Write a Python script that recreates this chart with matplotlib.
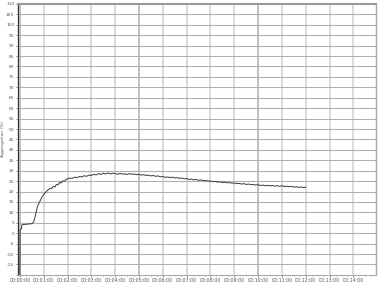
import numpy as np
import matplotlib
matplotlib.use("Agg")
import matplotlib.pyplot as plt
from matplotlib.ticker import MultipleLocator, FuncFormatter


# aggregation trace, time in minutes

time_start = [0.00, 0.01, 0.06, 0.08, 0.15, 0.25, 0.35, 0.45, 0.52, 0.58,
              0.63, 0.68, 0.73, 0.80, 0.87, 0.93, 1.00, 1.07, 1.13, 1.20,
              1.27, 1.33, 1.40, 1.47, 1.53, 1.60, 1.67, 1.73, 1.80, 1.87, 1.93]
agg_start = [-20, 1.8, 2.0, 4.0, 4.2, 4.3, 4.4, 4.5, 4.7, 5.5,
             7.5, 10.0, 12.5, 14.5, 16.0, 17.5, 18.6, 19.5, 20.3, 20.9,
             21.6, 21.4, 22.5, 22.2, 23.4, 23.2, 24.4, 24.1, 25.2, 24.9, 25.8]

# from 2.0 to 12.0 min, one reading every 0.1 min
agg_rest = [
    26.1, 26.5, 26.3, 26.9, 26.7, 27.2, 27.0, 27.6, 27.3, 27.9,   # 2
    27.7, 28.3, 28.0, 28.6, 28.2, 28.8, 28.4, 28.9, 28.5, 28.8,   # 3
    28.6, 28.3, 28.7, 28.4, 28.5, 28.2, 28.6, 28.3, 28.4, 28.1,   # 4
    28.2, 27.9, 28.1, 27.7, 27.9, 27.5, 27.7, 27.3, 27.5, 27.1,   # 5
    27.2, 26.8, 27.0, 26.7, 26.9, 26.5, 26.7, 26.3, 26.5, 26.1,   # 6
    26.2, 25.8, 26.0, 25.6, 25.8, 25.4, 25.6, 25.2, 25.3, 25.0,   # 7
    25.1, 24.7, 24.9, 24.5, 24.7, 24.3, 24.5, 24.2, 24.3, 24.0,   # 8
    24.1, 23.8, 23.9, 23.6, 23.8, 23.4, 23.6, 23.3, 23.4, 23.1,   # 9
    23.3, 22.9, 23.1, 22.8, 23.0, 22.7, 22.9, 22.6, 22.8, 22.5,   # 10
    22.8, 22.4, 22.6, 22.3, 22.5, 22.1, 22.3, 22.0, 22.2, 21.9,   # 11
    22.1,                                                         # 12
]
time_rest = [2.0 + 0.1 * i for i in range(len(agg_rest))]

time_min = time_start + time_rest
aggregation = agg_start + agg_rest


def hms(x, pos):
    m = int(round(x))
    return "00:%02d:00" % m


fig = plt.figure(figsize=(3.81, 2.84), dpi=100)
ax = fig.add_axes([0.046, 0.032, 0.941, 0.954])

ax.plot(time_min, aggregation, color="#3a3a3a", lw=0.7)

ax.set_xlim(-0.1, 14.95)
ax.set_ylim(-20, 110)

ax.xaxis.set_major_locator(MultipleLocator(1))
ax.xaxis.set_minor_locator(MultipleLocator(0.25))
ax.xaxis.set_major_formatter(FuncFormatter(hms))
ax.yaxis.set_major_locator(MultipleLocator(5))
ax.yaxis.set_minor_locator(MultipleLocator(1))
ax.yaxis.set_major_formatter(FuncFormatter(lambda v, p: "" if v <= -20 else "%d" % v))

# grid: light vertical lines, slightly darker horizontal ones
for m in range(0, 15):
    c = "#b8b8b8" if m % 5 == 0 else "#d4d4d4"
    ax.axvline(m, color=c, lw=1.2, zorder=0)
for v in range(-15, 110, 5):
    ax.axhline(v, color="#b0b0b0", lw=0.8, zorder=0)

ax.tick_params(axis="both", which="major", labelsize=3.2, length=1.5,
               width=0.5, colors="#555555", pad=0.8)
ax.tick_params(axis="both", which="minor", length=1, width=0.4, colors="#777777")
ax.tick_params(axis="x", labelsize=3.4)

ax.spines["left"].set_color("#333333")
ax.spines["left"].set_linewidth(0.8)
ax.spines["top"].set_color("#999999")
ax.spines["top"].set_linewidth(1.5)
ax.spines["right"].set_color("#aaaaaa")
ax.spines["right"].set_linewidth(1.0)
ax.spines["bottom"].set_color("#aaaaaa")
ax.spines["bottom"].set_linewidth(0.8)

fig.text(0.009, 0.51, "Aggregation (%)", fontsize=3.2, color="#555555",
         rotation=90, ha="center", va="center")

fig.savefig("out.png", dpi=100)
